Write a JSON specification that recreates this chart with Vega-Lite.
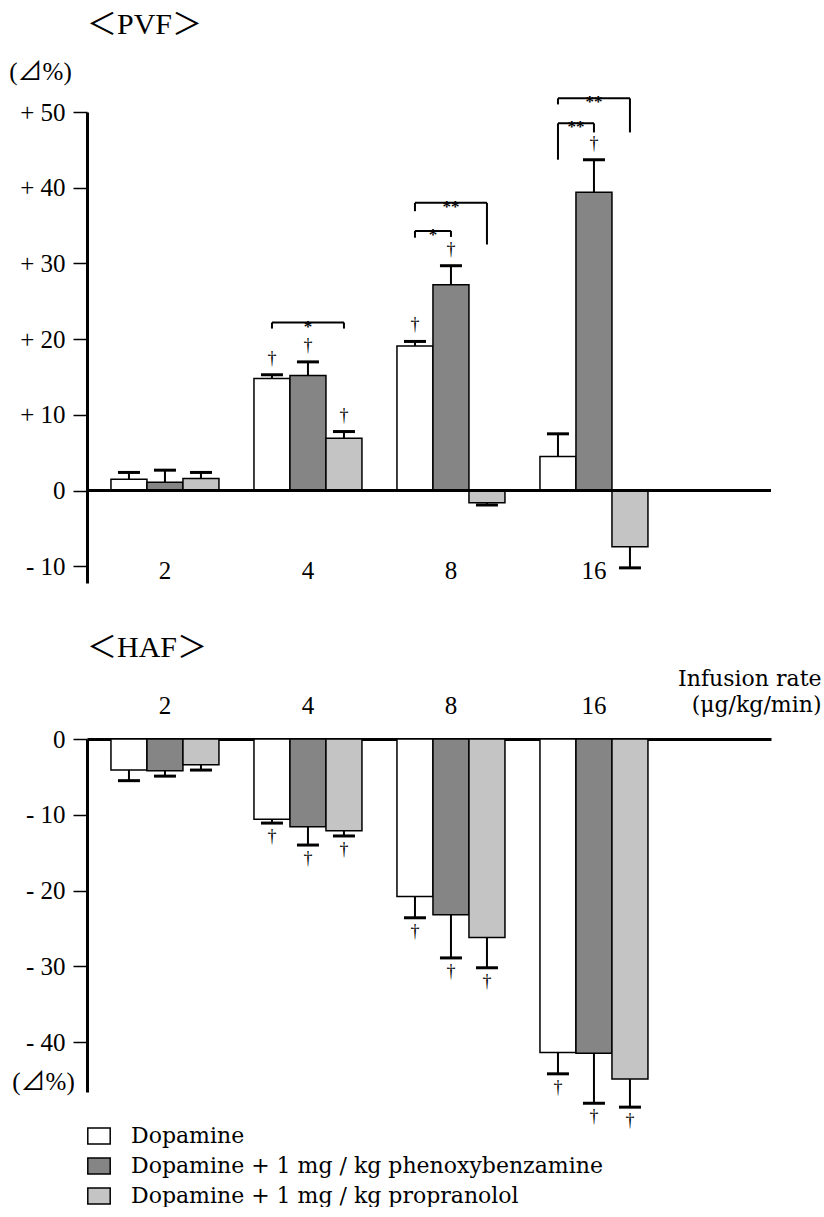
{
  "$schema": "https://vega.github.io/schema/vega-lite/v6.json",
  "background": "white",
  "padding": {"left": 8, "top": 10, "right": 0, "bottom": 0},
  "bounds": "flush",
  "spacing": 156,
  "resolve": {"scale": {"fill": "independent"}, "legend": {"fill": "independent"}},
  "config": {
    "font": "Liberation Serif",
    "view": {"stroke": null},
    "axis": {"labelFont": "Liberation Serif", "labelFontSize": 25, "labelColor": "black", "titleFont": "Liberation Serif, Noto Sans CJK JP", "titleColor": "black", "titleFontWeight": "normal", "grid": false, "domainColor": "black", "tickColor": "black"},
    "title": {"font": "Liberation Serif, Noto Sans CJK JP", "fontWeight": "normal", "color": "black"}
  },
  "datasets": {
    "pvf": [
      {"dose": "2", "treatment": "Dopamine", "value": 1.5, "errEnd": 2.4, "sig": ""},
      {"dose": "2", "treatment": "Dopamine + 1 mg / kg  phenoxybenzamine", "value": 1.1, "errEnd": 2.7, "sig": ""},
      {"dose": "2", "treatment": "Dopamine + 1 mg / kg  propranolol", "value": 1.6, "errEnd": 2.4, "sig": ""},
      {"dose": "4", "treatment": "Dopamine", "value": 14.8, "errEnd": 15.3, "sig": "†"},
      {"dose": "4", "treatment": "Dopamine + 1 mg / kg  phenoxybenzamine", "value": 15.2, "errEnd": 17.0, "sig": "†"},
      {"dose": "4", "treatment": "Dopamine + 1 mg / kg  propranolol", "value": 6.9, "errEnd": 7.8, "sig": "†"},
      {"dose": "8", "treatment": "Dopamine", "value": 19.1, "errEnd": 19.7, "sig": "†"},
      {"dose": "8", "treatment": "Dopamine + 1 mg / kg  phenoxybenzamine", "value": 27.2, "errEnd": 29.7, "sig": "†"},
      {"dose": "8", "treatment": "Dopamine + 1 mg / kg  propranolol", "value": -1.6, "errEnd": -1.9, "sig": ""},
      {"dose": "16", "treatment": "Dopamine", "value": 4.5, "errEnd": 7.5, "sig": ""},
      {"dose": "16", "treatment": "Dopamine + 1 mg / kg  phenoxybenzamine", "value": 39.4, "errEnd": 43.7, "sig": "†"},
      {"dose": "16", "treatment": "Dopamine + 1 mg / kg  propranolol", "value": -7.4, "errEnd": -10.2, "sig": ""}
    ],
    "haf": [
      {"dose": "2", "treatment": "Dopamine", "value": -4.1, "errEnd": -5.5, "sig": ""},
      {"dose": "2", "treatment": "Dopamine + 1 mg / kg  phenoxybenzamine", "value": -4.2, "errEnd": -4.9, "sig": ""},
      {"dose": "2", "treatment": "Dopamine + 1 mg / kg  propranolol", "value": -3.4, "errEnd": -4.1, "sig": ""},
      {"dose": "4", "treatment": "Dopamine", "value": -10.6, "errEnd": -11.1, "sig": "†"},
      {"dose": "4", "treatment": "Dopamine + 1 mg / kg  phenoxybenzamine", "value": -11.6, "errEnd": -14.0, "sig": "†"},
      {"dose": "4", "treatment": "Dopamine + 1 mg / kg  propranolol", "value": -12.1, "errEnd": -12.8, "sig": "†"},
      {"dose": "8", "treatment": "Dopamine", "value": -20.8, "errEnd": -23.6, "sig": "†"},
      {"dose": "8", "treatment": "Dopamine + 1 mg / kg  phenoxybenzamine", "value": -23.2, "errEnd": -28.9, "sig": "†"},
      {"dose": "8", "treatment": "Dopamine + 1 mg / kg  propranolol", "value": -26.2, "errEnd": -30.2, "sig": "†"},
      {"dose": "16", "treatment": "Dopamine", "value": -41.4, "errEnd": -44.2, "sig": "†"},
      {"dose": "16", "treatment": "Dopamine + 1 mg / kg  phenoxybenzamine", "value": -41.5, "errEnd": -48.1, "sig": "†"},
      {"dose": "16", "treatment": "Dopamine + 1 mg / kg  propranolol", "value": -44.9, "errEnd": -48.6, "sig": "†"}
    ],
    "brackets": [
      {"dose": "4", "kind": "DR", "level": 22.2, "left": 21.4, "right": 21.4, "label": "*"},
      {"dose": "8", "kind": "DP", "level": 34.3, "left": 33.4, "right": 33.5, "label": "*"},
      {"dose": "8", "kind": "DR", "level": 38.0, "left": 36.9, "right": 32.5, "label": "**"},
      {"dose": "16", "kind": "DP", "level": 48.5, "left": 43.7, "right": 47.3, "label": "**"},
      {"dose": "16", "kind": "DR", "level": 51.8, "left": 51.0, "right": 47.3, "label": "**"}
    ]
  },
  "vconcat": [
    {
      "width": 684,
      "height": 471,
      "title": {"text": "＜PVF＞", "anchor": "start", "frame": "group", "fontSize": 30, "offset": 19},
      "layer": [
        {
          "data": {"name": "pvf"},
          "mark": {"type": "bar", "stroke": "black", "strokeWidth": 1.5, "clip": false},
          "encoding": {
            "x": {"field": "dose", "type": "nominal", "scale": {"domain": ["2", "4", "8", "16"], "paddingInner": 0.2448, "paddingOuter": 0.514, "align": 0.163},
              "axis": {"orient": "bottom", "title": null, "domain": false, "ticks": false, "labelPadding": 0, "offset": -5, "labelBaseline": "alphabetic", "labelAngle": 0}},
            "xOffset": {"field": "treatment", "type": "nominal", "scale": {"domain": ["Dopamine", "Dopamine + 1 mg / kg  phenoxybenzamine", "Dopamine + 1 mg / kg  propranolol"], "paddingInner": 0, "paddingOuter": 0}},
            "y": {"field": "value", "type": "quantitative", "stack": null, "scale": {"domain": [-12.2, 50], "nice": false, "zero": false},
              "axis": {"values": [50, 40, 30, 20, 10, 0, -10], "labelExpr": "datum.value > 0 ? '+ ' + datum.value : (datum.value < 0 ? '- ' + (-datum.value) : '0')", "domainWidth": 3, "tickWidth": 1.5, "tickSize": 14, "labelPadding": 8, "title": "(⊿%)", "titleAngle": 0, "titleX": -47, "titleY": -41, "titleAlign": "center", "titleBaseline": "middle", "titleFontSize": 25}},
            "fill": {"field": "treatment", "type": "nominal", "scale": {"domain": ["Dopamine", "Dopamine + 1 mg / kg  phenoxybenzamine", "Dopamine + 1 mg / kg  propranolol"], "range": ["#ffffff", "#858585", "#c4c4c4"]}, "legend": null}
          }
        },
        {
          "data": {"name": "pvf"},
          "mark": {"type": "rule", "color": "black", "strokeWidth": 2, "clip": false},
          "encoding": {
            "x": {"field": "dose", "type": "nominal"},
            "xOffset": {"field": "treatment", "type": "nominal"},
            "y": {"field": "value", "type": "quantitative"},
            "y2": {"field": "errEnd"}
          }
        },
        {
          "data": {"name": "pvf"},
          "mark": {"type": "tick", "orient": "horizontal", "color": "black", "size": 22, "thickness": 3, "opacity": 1, "clip": false},
          "encoding": {
            "x": {"field": "dose", "type": "nominal"},
            "xOffset": {"field": "treatment", "type": "nominal"},
            "y": {"field": "errEnd", "type": "quantitative"}
          }
        },
        {
          "data": {"name": "pvf"},
          "mark": {"type": "text", "color": "black", "fontSize": 18, "baseline": "middle", "dy": -16, "clip": false},
          "encoding": {
            "x": {"field": "dose", "type": "nominal"},
            "xOffset": {"field": "treatment", "type": "nominal"},
            "y": {"field": "errEnd", "type": "quantitative"},
            "text": {"field": "sig"}
          }
        },
        {
          "data": {"values": [{}]},
          "mark": {"type": "rule", "color": "black", "strokeWidth": 3},
          "encoding": {"y": {"datum": 0}}
        },
        {
          "data": {"name": "brackets"},
          "transform": [{"filter": "datum.kind == 'DP'"}],
          "mark": {"type": "rule", "color": "black", "strokeWidth": 2, "clip": false},
          "encoding": {
            "x": {"field": "dose", "type": "nominal", "bandPosition": 0.1667},
            "x2": {"field": "dose", "bandPosition": 0.5},
            "y": {"field": "level", "type": "quantitative"}
          }
        },
        {
          "data": {"name": "brackets"},
          "transform": [{"filter": "datum.kind == 'DR'"}],
          "mark": {"type": "rule", "color": "black", "strokeWidth": 2, "clip": false},
          "encoding": {
            "x": {"field": "dose", "type": "nominal", "bandPosition": 0.1667},
            "x2": {"field": "dose", "bandPosition": 0.8333},
            "y": {"field": "level", "type": "quantitative"}
          }
        },
        {
          "data": {"name": "brackets"},
          "mark": {"type": "rule", "color": "black", "strokeWidth": 2, "clip": false},
          "encoding": {
            "x": {"field": "dose", "type": "nominal", "bandPosition": 0.1667},
            "y": {"field": "level", "type": "quantitative"},
            "y2": {"field": "left"}
          }
        },
        {
          "data": {"name": "brackets"},
          "transform": [{"filter": "datum.kind == 'DP'"}],
          "mark": {"type": "rule", "color": "black", "strokeWidth": 2, "clip": false},
          "encoding": {
            "x": {"field": "dose", "type": "nominal", "bandPosition": 0.5},
            "y": {"field": "level", "type": "quantitative"},
            "y2": {"field": "right"}
          }
        },
        {
          "data": {"name": "brackets"},
          "transform": [{"filter": "datum.kind == 'DR'"}],
          "mark": {"type": "rule", "color": "black", "strokeWidth": 2, "clip": false},
          "encoding": {
            "x": {"field": "dose", "type": "nominal", "bandPosition": 0.8333},
            "y": {"field": "level", "type": "quantitative"},
            "y2": {"field": "right"}
          }
        },
        {
          "data": {"name": "brackets"},
          "transform": [{"filter": "datum.kind == 'DP'"}],
          "mark": {"type": "text", "color": "black", "fontSize": 17, "fontWeight": "bold", "baseline": "middle", "dy": 4, "clip": false},
          "encoding": {
            "x": {"field": "dose", "type": "nominal", "bandPosition": 0.3333},
            "y": {"field": "level", "type": "quantitative"},
            "text": {"field": "label"}
          }
        },
        {
          "data": {"name": "brackets"},
          "transform": [{"filter": "datum.kind == 'DR'"}],
          "mark": {"type": "text", "color": "black", "fontSize": 17, "fontWeight": "bold", "baseline": "middle", "dy": 4, "clip": false},
          "encoding": {
            "x": {"field": "dose", "type": "nominal", "bandPosition": 0.5},
            "y": {"field": "level", "type": "quantitative"},
            "text": {"field": "label"}
          }
        }
      ]
    },
    {
      "width": 684,
      "height": 353,
      "title": {"text": "＜HAF＞", "anchor": "start", "frame": "group", "fontSize": 30, "offset": 4},
      "layer": [
        {
          "data": {"name": "haf"},
          "mark": {"type": "bar", "stroke": "black", "strokeWidth": 1.5, "clip": false},
          "encoding": {
            "x": {"field": "dose", "type": "nominal", "scale": {"domain": ["2", "4", "8", "16"], "paddingInner": 0.2448, "paddingOuter": 0.514, "align": 0.163},
              "axis": {"orient": "top", "domain": true, "domainWidth": 3, "ticks": false, "labelPadding": 26, "labelBaseline": "alphabetic", "labelAngle": 0,
                "title": ["Infusion rate", "(μg/kg/min)"], "titleFont": "DejaVu Serif", "titleAlign": "right", "titleAngle": 0, "titleX": 734, "titleY": -54, "titleBaseline": "alphabetic", "titleFontSize": 22, "titleLineHeight": 26}},
            "xOffset": {"field": "treatment", "type": "nominal", "scale": {"domain": ["Dopamine", "Dopamine + 1 mg / kg  phenoxybenzamine", "Dopamine + 1 mg / kg  propranolol"], "paddingInner": 0, "paddingOuter": 0}},
            "y": {"field": "value", "type": "quantitative", "stack": null, "scale": {"domain": [-46.6, 0], "nice": false, "zero": false},
              "axis": {"values": [0, -10, -20, -30, -40], "labelExpr": "datum.value > 0 ? '+ ' + datum.value : (datum.value < 0 ? '- ' + (-datum.value) : '0')", "domainWidth": 3, "tickWidth": 1.5, "tickSize": 14, "labelPadding": 8, "title": "(⊿%)", "titleAngle": 0, "titleX": -44, "titleY": 342, "titleAlign": "center", "titleBaseline": "middle", "titleFontSize": 25}},
            "fill": {"field": "treatment", "type": "nominal", "scale": {"domain": ["Dopamine", "Dopamine + 1 mg / kg  phenoxybenzamine", "Dopamine + 1 mg / kg  propranolol"], "range": ["#ffffff", "#858585", "#c4c4c4"]},
              "legend": {"orient": "none", "legendX": 1, "legendY": 386, "title": null, "symbolType": "M-1.4,-1H1.4V1H-1.4Z", "symbolSize": 256, "symbolStrokeColor": "black", "symbolStrokeWidth": 1.5, "labelFont": "DejaVu Serif", "labelFontSize": 22, "labelColor": "black", "labelLimit": 0, "rowPadding": 8, "labelOffset": 21, "padding": 0}}
          }
        },
        {
          "data": {"name": "haf"},
          "mark": {"type": "rule", "color": "black", "strokeWidth": 2, "clip": false},
          "encoding": {
            "x": {"field": "dose", "type": "nominal"},
            "xOffset": {"field": "treatment", "type": "nominal"},
            "y": {"field": "value", "type": "quantitative"},
            "y2": {"field": "errEnd"}
          }
        },
        {
          "data": {"name": "haf"},
          "mark": {"type": "tick", "orient": "horizontal", "color": "black", "size": 22, "thickness": 3, "opacity": 1, "clip": false},
          "encoding": {
            "x": {"field": "dose", "type": "nominal"},
            "xOffset": {"field": "treatment", "type": "nominal"},
            "y": {"field": "errEnd", "type": "quantitative"}
          }
        },
        {
          "data": {"name": "haf"},
          "mark": {"type": "text", "color": "black", "fontSize": 18, "baseline": "middle", "dy": 14, "clip": false},
          "encoding": {
            "x": {"field": "dose", "type": "nominal"},
            "xOffset": {"field": "treatment", "type": "nominal"},
            "y": {"field": "errEnd", "type": "quantitative"},
            "text": {"field": "sig"}
          }
        }
      ]
    }
  ]
}
